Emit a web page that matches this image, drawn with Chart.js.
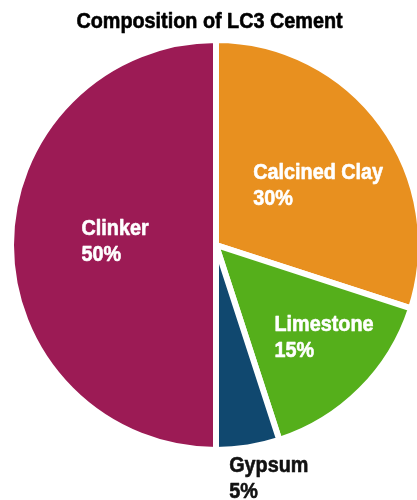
<!DOCTYPE html>
<html>
<head>
<meta charset="utf-8">
<script src="https://cdn.jsdelivr.net/npm/chart.js@4/dist/chart.umd.min.js"></script>
<style>
  html, body { margin: 0; padding: 0; background: #ffffff; }
  #wrap { position: relative; width: 417px; height: 500px; }
</style>
</head>
<body>
<div id="wrap"><canvas id="c" width="417" height="500"></canvas></div>
<script>
const chartTitle = 'Composition of LC3 Cement';
const categories = ['Calcined Clay', 'Limestone', 'Gypsum', 'Clinker'];
const shares = [30, 15, 5, 50];
const sliceColors = ['#E8901F', '#55AF1B', '#10486F', '#9C1B55'];
const labelColors = ['#ffffff', '#ffffff', '#111111', '#ffffff'];

// label placement (style): fraction of radius and angle shift in degrees
const labelRadius = [0.59, 0.70, 1.18, 0.50];
const labelShift = [5, -4.8, -3.8, 2.6];

const FONT = "'Liberation Sans', Arial, sans-serif";
const NARROW = 0.9; // horizontal condensing of the bold face

function narrowText(ctx, text, x, y) {
  ctx.save();
  ctx.translate(x, y);
  ctx.scale(NARROW, 1);
  ctx.strokeStyle = ctx.fillStyle;
  ctx.lineWidth = 0.6;
  ctx.lineJoin = 'round';
  ctx.strokeText(text, 0, 0);
  ctx.fillText(text, 0, 0);
  ctx.restore();
}

const sliceLabels = {
  id: 'sliceLabels',
  afterDatasetsDraw(chart) {
    const ctx = chart.ctx;
    const meta = chart.getDatasetMeta(0);
    ctx.save();
    ctx.font = 'bold 22px ' + FONT;
    ctx.textAlign = 'left';
    ctx.textBaseline = 'alphabetic';
    meta.data.forEach((arc, i) => {
      const p = arc.getProps(['x', 'y', 'startAngle', 'endAngle', 'outerRadius'], true);
      const mid = (p.startAngle + p.endAngle) / 2 + labelShift[i] * Math.PI / 180;
      const r = (p.outerRadius - 3) * labelRadius[i];
      const cx = p.x + Math.cos(mid) * r;
      const cy = p.y + Math.sin(mid) * r;
      const lines = [categories[i], shares[i] + '%'];
      const w = Math.max(...lines.map(l => ctx.measureText(l).width)) * NARROW;
      const left = cx - w / 2;
      ctx.fillStyle = labelColors[i];
      narrowText(ctx, lines[0], left, cy - 5);
      narrowText(ctx, lines[1], left, cy + 21);
    });
    ctx.restore();
  }
};

const topTitle = {
  id: 'topTitle',
  afterDraw(chart) {
    const ctx = chart.ctx;
    ctx.save();
    ctx.font = 'bold 22px ' + FONT;
    ctx.fillStyle = '#000000';
    ctx.textAlign = 'center';
    ctx.textBaseline = 'alphabetic';
    narrowText(ctx, chartTitle, chart.width / 2 + 1, 28);
    ctx.restore();
  }
};

new Chart(document.getElementById('c'), {
  type: 'pie',
  data: {
    labels: categories,
    datasets: [{
      data: shares,
      backgroundColor: sliceColors,
      borderColor: '#ffffff',
      borderWidth: 6,
      radius: 205,
      clip: false,
      hoverOffset: 0
    }]
  },
  options: {
    responsive: false,
    animation: false,
    events: [],
    rotation: 0,
    layout: { padding: { left: 15, right: 0, top: 40, bottom: 50 } },
    plugins: {
      legend: { display: false },
      tooltip: { enabled: false },
      title: { display: false }
    }
  },
  plugins: [sliceLabels, topTitle]
});
</script>
</body>
</html>
